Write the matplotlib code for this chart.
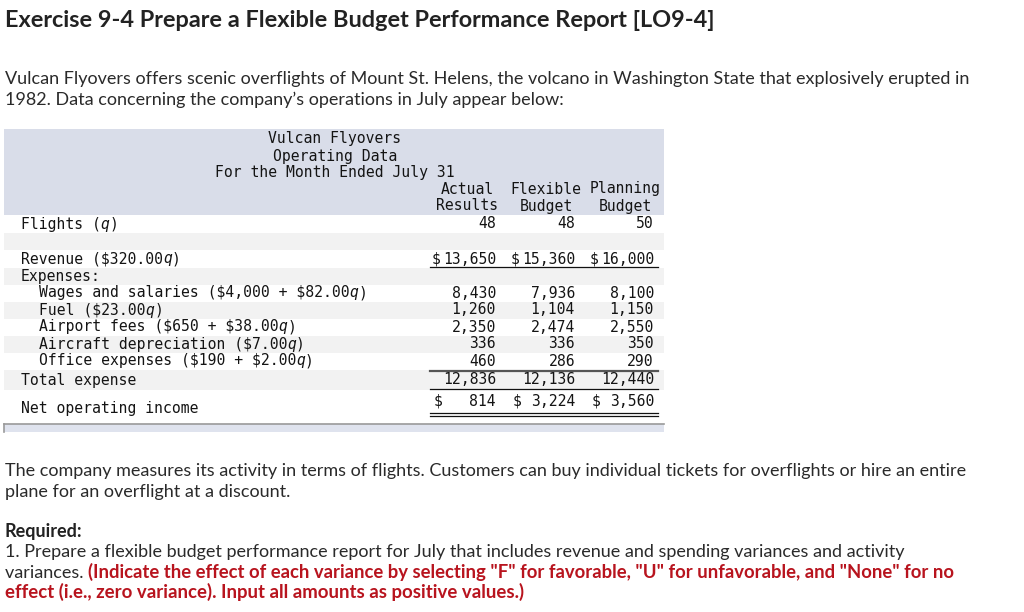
import matplotlib
matplotlib.use('Agg')
import matplotlib.pyplot as plt
from matplotlib.patches import Rectangle

plt.rcParams['text.parse_math'] = False

# text of the page
title = 'Exercise 9-4 Prepare a Flexible Budget Performance Report [LO9-4]'
intro = ['Vulcan Flyovers offers scenic overflights of Mount St. Helens, the volcano in Washington State that explosively erupted in',
         '1982. Data concerning the company\u2019s operations in July appear below:']
after = ['The company measures its activity in terms of flights. Customers can buy individual tickets for overflights or hire an entire',
         'plane for an overflight at a discount.']
req_head = 'Required:'
req_1 = '1. Prepare a flexible budget performance report for July that includes revenue and spending variances and activity'
req_2a = 'variances. '
req_2b = '(Indicate the effect of each variance by selecting "F" for favorable, "U" for unfavorable, and "None" for no'
req_3 = 'effect (i.e., zero variance). Input all amounts as positive values.)'

# table data
heading = ['Vulcan Flyovers', 'Operating Data', 'For the Month Ended July 31']
col_top = ['Actual', 'Flexible', 'Planning']
col_bot = ['Results', 'Budget', 'Budget']
flights = ['48', '48', '50']
revenue = ['13,650', '15,360', '16,000']
expense_labels = ['Wages and salaries ($4,000 + $82.00q)', 'Fuel ($23.00q)',
                  'Airport fees ($650 + $38.00q)', 'Aircraft depreciation ($7.00q)',
                  'Office expenses ($190 + $2.00q)']
expenses = [['8,430', '7,936', '8,100'],
            ['1,260', '1,104', '1,150'],
            ['2,350', '2,474', '2,550'],
            ['336', '336', '350'],
            ['460', '286', '290']]
total_expense = ['12,836', '12,136', '12,440']
net_income = ['814', '3,224', '3,560']

fig = plt.figure(figsize=(10.24, 6.12), dpi=100)
ax = fig.add_axes([0, 0, 1, 1])
ax.set_xlim(0, 1024)
ax.set_ylim(612, 0)
ax.axis('off')
r = fig.canvas.get_renderer()

sans = 'Lato'
ink = '#2a2a2a'
red = '#b8141e'


def fit(x, y, s, width, **kw):
    t = ax.text(x, y, s, va='baseline', **kw)
    w = t.get_window_extent(r).width
    t.set_fontsize(t.get_fontsize() * width / w)
    return t


def width_of(t):
    return t.get_window_extent(r).width


# title and prose
fit(5, 27, title, 713, family=sans, weight='bold', color='#222222', fontsize=14)
t0 = fit(5, 84, intro[0], 960, family=sans, color=ink, fontsize=12)
fs = t0.get_fontsize()
ax.text(5, 105, intro[1], family=sans, color=ink, fontsize=fs, va='baseline')
ax.text(5, 476, after[0], family=sans, color=ink, fontsize=fs, va='baseline')
ax.text(5, 497, after[1], family=sans, color=ink, fontsize=fs, va='baseline')
ax.text(5, 537, req_head, family=sans, color='#222222', fontsize=fs, weight='bold', va='baseline')
ax.text(5, 557, req_1, family=sans, color=ink, fontsize=fs, va='baseline')
ta = ax.text(5, 578, req_2a, family=sans, color=ink, fontsize=fs, va='baseline')
x_red = 5 + width_of(ta)
fit(x_red, 578, req_2b, 954 - x_red, family=sans, color=red, fontsize=fs, weight='bold')
fit(5, 598, req_3, 520, family=sans, color=red, fontsize=fs, weight='bold')

# table backgrounds
left, right = 4, 664
ax.add_patch(Rectangle((left, 129), right - left, 86, color='#d9dde9', lw=0))
bands = [(233, 250), (268, 285), (302, 319), (336, 353), (370, 390)]
for y0, y1 in bands:
    ax.add_patch(Rectangle((left, y0), right - left, y1 - y0, color='#f2f2f2', lw=0))
ax.add_patch(Rectangle((left, 424), right - left, 8, color='#dfe3ee', lw=0))
ax.plot([left, right], [424, 424], color='#9a9a9a', lw=1.2)
ax.plot([left, left], [424, 432], color='#9a9a9a', lw=1.2)

mono = 'DejaVu Sans Mono'
mfs = 10.6
cw = 0.602 * mfs * 100 / 72
tcol = '#141414'


def mtext(x, y, s, **kw):
    ax.text(x, y, s, family=mono, fontsize=mfs, color=tcol, va='center', **kw)


def label(x, y, s):
    # q is set in italic, the rest upright, piece by piece on the mono grid
    pos = 0
    for k, part in enumerate(s.split('q')):
        if k > 0:
            mtext(x + pos * cw, y, 'q', ha='left', style='italic')
            pos += 1
        if part:
            mtext(x + pos * cw, y, part, ha='left')
        pos += len(part)


centre = 335
for s, y in zip(heading, [139, 156, 173]):
    mtext(centre, y, s, ha='center')

col_right = [496, 575, 654]
col_mid = [467.5, 546, 625]
for i in range(3):
    mtext(col_mid[i], 189, col_top[i], ha='center')
    mtext(col_mid[i], 206, col_bot[i], ha='center')

x1, x2 = 21, 39
label(x1, 224, 'Flights (q)')
for i in range(3):
    mtext(col_right[i], 224, flights[i], ha='right')

label(x1, 259, 'Revenue ($320.00q)')
for i in range(3):
    mtext(col_right[i], 259, revenue[i], ha='right')
    mtext(col_right[i] - 6 * cw - 2, 259, '$', ha='right')
mtext(x1, 276, 'Expenses:', ha='left')

rows_y = [293, 310, 327, 344, 361]
for lab, vals, y in zip(expense_labels, expenses, rows_y):
    label(x2, y, lab)
    for i in range(3):
        mtext(col_right[i], y, vals[i], ha='right')

mtext(x1, 380, 'Total expense', ha='left')
for i in range(3):
    mtext(col_right[i], 380, total_expense[i], ha='right')

mtext(x1, 409, 'Net operating income', ha='left')
for i in range(3):
    mtext(col_right[i], 401, net_income[i], ha='right')
    mtext(col_right[i] - 7 * cw, 401, '$', ha='left')

# rules under the figures
lx0, lx1 = 430, 658
ax.plot([lx0, lx1], [267, 267], color='#111111', lw=0.9)
ax.plot([lx0, lx1], [370.5, 370.5], color='#555555', lw=1.6)
ax.plot([lx0, lx1], [389, 389], color='#111111', lw=0.9)
ax.plot([lx0, lx1], [413, 413], color='#111111', lw=0.9)
ax.plot([lx0, lx1], [416, 416], color='#111111', lw=0.9)

fig.savefig('out.png', dpi=100)
